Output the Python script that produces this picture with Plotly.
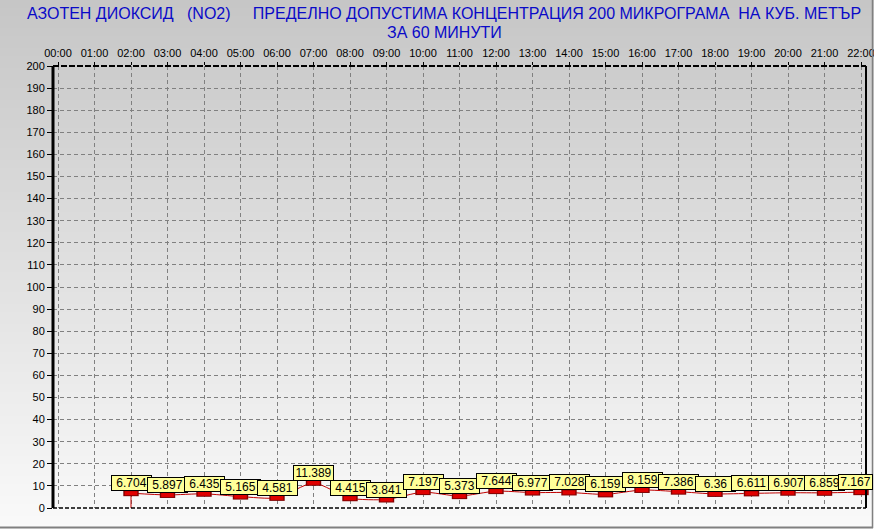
import plotly.graph_objects as go

# ---- data ----
hour_labels = [f"{h:02d}:00" for h in range(23)]
hours = list(range(2, 23))
values = [6.704, 5.897, 6.435, 5.165, 4.581, 11.389, 4.415, 3.841, 7.197, 5.373,
          7.644, 6.977, 7.028, 6.159, 8.159, 7.386, 6.36, 6.611, 6.907, 6.859, 7.167]
y_ticks = list(range(0, 201, 10))
title_lines = ["АЗОТЕН ДИОКСИД   (NO2)     ПРЕДЕЛНО ДОПУСТИМА КОНЦЕНТРАЦИЯ 200 МИКРОГРАМА  НА КУБ. МЕТЪР",
               "ЗА 60 МИНУТИ"]

W, H = 874, 529
L, R, T, B = 53, 8, 66, 21
PW, PH = W - L - R, H - T - B

def px_x(px):
    return (px - L) / PW

def px_y(py):
    return (H - B - py) / PH

FONT = "Liberation Sans, Arial, sans-serif"

fig = go.Figure()

# connecting line (spline)
fig.add_trace(go.Scatter(x=hours, y=values, mode="lines",
                         line=dict(color="#C00000", width=1, shape="spline", smoothing=0.6),
                         hoverinfo="skip", showlegend=False))
# drop line at the first point
fig.add_trace(go.Scatter(x=[hours[0], hours[0]], y=[0, values[0]], mode="lines",
                         line=dict(color="#C00000", width=1),
                         hoverinfo="skip", showlegend=False))
# markers (rectangles)
fig.add_trace(go.Scatter(x=hours, y=values, mode="markers",
                         marker=dict(symbol="line-ew", size=11, line=dict(color="#800000", width=6)),
                         hoverinfo="skip", showlegend=False, cliponaxis=False))
fig.add_trace(go.Scatter(x=hours, y=values, mode="markers",
                         marker=dict(symbol="line-ew", size=9, line=dict(color="#E00000", width=4)),
                         hoverinfo="skip", showlegend=False, cliponaxis=False))

# value labels
for i, (h, v) in enumerate(zip(hours, values)):
    last = i == len(hours) - 1   # the last box is clipped to fit inside the chart
    fig.add_annotation(x=h, y=v, text=str(v), showarrow=False, xanchor="center", yanchor="bottom",
                       yshift=2, xshift=-6 if last else 0, bgcolor="#FFFF99", bordercolor="black",
                       borderwidth=1, borderpad=0, width=33 if last else 39, height=14,
                       font=dict(family=FONT, size=12, color="black"))

# title lines
for text, cy in zip(title_lines, [14, 32]):
    fig.add_annotation(x=px_x(444), y=px_y(cy), xref="paper", yref="paper", text=text,
                       showarrow=False, xanchor="center", yanchor="middle",
                       font=dict(family=FONT, size=16, color="#0A0AC8"))

# background gradient
shapes = []
step = 4
for py in range(0, H, step):
    c = round(198 + 52 * py / H)
    col = f"rgb({c},{c},{c})"
    shapes.append(dict(type="rect", xref="paper", yref="paper", layer="below",
                       x0=px_x(0), x1=px_x(W), y0=px_y(py + step + 0.5), y1=px_y(py),
                       fillcolor=col, line=dict(width=0)))
# plot frame
shapes += [
    dict(type="line", xref="paper", yref="paper", x0=0, x1=1, y0=1, y1=1,
         line=dict(color="black", width=2, dash="6px,2px"), layer="above"),
    dict(type="line", xref="paper", yref="paper", x0=1, x1=1, y0=0, y1=1,
         line=dict(color="black", width=2), layer="above"),
    dict(type="line", xref="paper", yref="paper", x0=0, x1=1, y0=0, y1=0,
         line=dict(color="black", width=1.5, dash="4px,2px"), layer="above"),
    dict(type="line", xref="paper", yref="paper", x0=0, x1=0, y0=0, y1=1,
         line=dict(color="black", width=3), layer="above"),
    # outer gray frame
    dict(type="line", xref="paper", yref="paper", x0=px_x(0), x1=px_x(873), y0=px_y(527.5), y1=px_y(527.5),
         line=dict(color="#808080", width=2), layer="above"),
    dict(type="line", xref="paper", yref="paper", x0=px_x(872.5), x1=px_x(872.5), y0=px_y(0), y1=px_y(528),
         line=dict(color="#808080", width=1.5), layer="above"),
]

fig.update_layout(
    width=W, height=H,
    margin=dict(l=L, r=R, t=T, b=B, pad=0),
    paper_bgcolor="#D0D0D0",
    plot_bgcolor="rgba(0,0,0,0)",
    font=dict(family=FONT, color="black", size=11),
    shapes=shapes,
    showlegend=False,
)

fig.update_xaxes(side="top", range=[-5 / 36.5, 22 + 5 / 36.5], tickvals=list(range(23)),
                 ticktext=hour_labels, ticks="outside", ticklen=3, tickcolor="black",
                 ticklabelstandoff=1, automargin=False, ticklabeloverflow="allow",
                 showgrid=True, gridcolor="#808080", gridwidth=1, griddash="4px,3px",
                 zeroline=False, showline=False, tickfont=dict(size=11, color="black"))
fig.update_yaxes(range=[0, 200], tickvals=y_ticks, ticks="outside", ticklen=5, tickcolor="black",
                 automargin=False,
                 showgrid=True, gridcolor="#808080", gridwidth=1, griddash="4px,3px",
                 zeroline=False, showline=False, tickfont=dict(size=11, color="black"))

fig.write_html("out.html", config={"displayModeBar": False},
               post_script="document.body.style.margin='0';document.body.style.overflow='hidden';")
